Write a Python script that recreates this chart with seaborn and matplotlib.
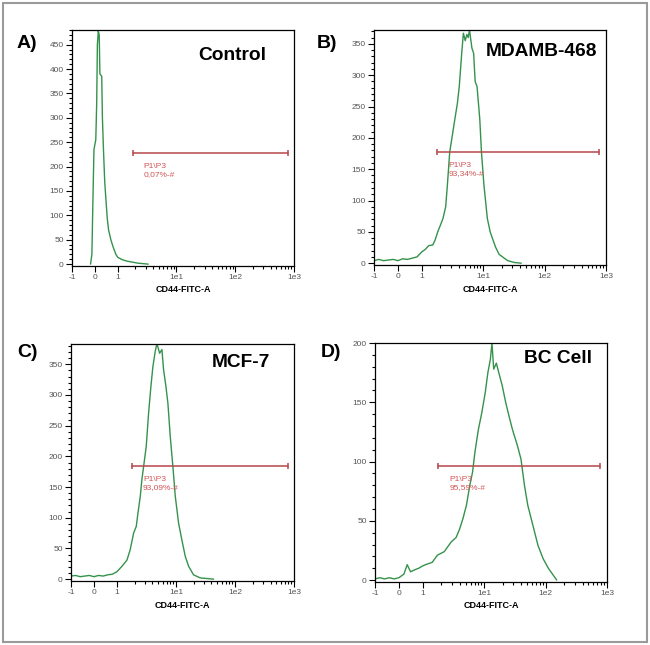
import numpy as np
import pandas as pd
import seaborn as sns
import matplotlib
import matplotlib.pyplot as plt
from matplotlib.ticker import FixedLocator, MultipleLocator
from matplotlib.patches import Rectangle

matplotlib.use('Agg')

# CD44-FITC-A intensity (x) and event counts (y)
control_x = [-0.19, -0.13, -0.09, -0.04, 0.0, 0.04, 0.08, 0.11, 0.15, 0.19, 0.22, 0.3,
             0.33, 0.38, 0.43, 0.48, 0.54, 0.6, 0.7, 0.8, 0.92, 1.0, 1.2, 1.45, 1.8,
             2.2, 2.7, 3.3]
control_y = [0, 20, 120, 235, 245, 255, 330, 450, 478, 470, 390, 385,
             300, 230, 170, 135, 95, 70, 50, 35, 20, 14, 9, 6, 4,
             2, 1, 0]

mdamb_x = [-1.0, -0.8, -0.6, -0.4, -0.2, 0.0, 0.2, 0.4, 0.6, 0.8, 1.0, 1.14, 1.3, 1.51,
           1.65, 1.82, 2.0, 2.21, 2.45, 2.61, 2.85, 3.1, 3.46, 3.8, 4.08, 4.47, 4.76,
           5.1, 5.41, 5.7, 5.99, 6.56, 6.99, 7.4, 7.94, 8.8, 9.38, 10.3, 11.7, 13.0,
           14.1, 16.0, 18.2, 22.0, 25.1, 32.4, 41.7]
mdamb_y = [4, 6, 4, 5, 6, 4, 7, 6, 8, 10, 18, 22, 28, 29,
           37, 50, 60, 71, 90, 124, 177, 200, 230, 255, 282, 335, 367,
           355, 365, 360, 372, 343, 335, 290, 282, 230, 177, 124, 71, 50,
           40, 25, 14, 8, 4, 1, 0]

mcf7_x = [-1.0, -0.8, -0.6, -0.4, -0.2, 0.0, 0.2, 0.4, 0.6, 0.8, 1.0, 1.22, 1.48, 1.68,
          1.92, 2.13, 2.27, 2.49, 2.65, 2.83, 3.14, 3.44, 3.77, 4.07, 4.46, 4.76, 5.29,
          5.79, 6.18, 6.77, 7.32, 8.02, 8.89, 9.75, 11.1, 12.6, 14.4, 16.4, 19.9, 25.8,
          33.5, 43.6]
mcf7_y = [5, 6, 4, 5, 6, 4, 6, 5, 7, 8, 12, 21, 31, 48,
          75, 86, 107, 135, 162, 183, 216, 270, 314, 346, 371, 384, 368,
          374, 341, 314, 286, 232, 183, 135, 91, 64, 37, 21, 7, 2,
          1, 0]

bc_x = [-1.0, -0.8, -0.6, -0.4, -0.2, 0.0, 0.21, 0.35, 0.49, 0.7, 0.83, 1.0, 1.11, 1.43,
        1.73, 2.24, 2.89, 3.5, 3.98, 4.52, 5.14, 5.84, 6.47, 7.08, 8.05, 9.14, 10.4,
        11.5, 12.6, 13.4, 14.3, 15.8, 17.3, 19.7, 22.4, 25.5, 28.9, 35.0, 39.8, 45.3,
        51.4, 62.3, 75.5, 91.4, 111, 134, 152]
bc_y = [1, 2, 1, 2, 1, 2, 5, 13, 7, 9, 10, 12, 13, 15,
        21, 24, 32, 36, 43, 52, 63, 80, 91, 108, 127, 141, 158,
        175, 186, 200, 178, 183, 175, 164, 150, 138, 127, 113, 102, 80,
        63, 46, 29, 18, 10, 4, 0]

titles = ["Control", "MDAMB-468", "MCF-7", "BC Cell"]
letters = ["A)", "B)", "C)", "D)"]
y_tops = [480, 372, 383, 200]
gate_lo = [1.8, 1.8, 1.8, 1.8]
gate_hi = [800, 780, 800, 780]
gate_y = [228, 177, 184, 96]
gate_pct = ["0,07%-#", "93,34%-#", "93,09%-#", "95,59%-#"]

tick_vals = [-1, 0, 1, 10, 100, 1000]
tick_labels = ["-1", "0", "1", "1e1", "1e2", "1e3"]

series = [(control_x, control_y), (mdamb_x, mdamb_y), (mcf7_x, mcf7_y), (bc_x, bc_y)]

# layout (figure fractions)
axes_pos = [
    [0.1108, 0.5876, 0.3415, 0.3659],
    [0.5754, 0.5891, 0.3569, 0.3643],
    [0.1092, 0.0992, 0.3431, 0.3674],
    [0.5769, 0.0977, 0.3569, 0.3705],
]
title_pos = [(0.72, 0.894), (0.72, 0.91), (0.76, 0.924), (0.79, 0.937)]
letter_pos = [(0.042, 0.933), (0.503, 0.933), (0.042, 0.454), (0.509, 0.454)]

GREEN = "#35924b"
RED = "#b8474a"

sns.set_style("white")
plt.rcParams['font.family'] = ['Liberation Sans', 'DejaVu Sans']
plt.rcParams['text.color'] = 'black'
plt.rcParams['axes.labelcolor'] = 'black'

fig = plt.figure(figsize=(6.5, 6.45), dpi=100)
fig.patches.append(Rectangle((0.004, 0.004), 0.992, 0.992, transform=fig.transFigure,
                             fill=False, edgecolor="#9a9a9a", linewidth=1.5))

minor_ticks = [m * 10 ** k for k in range(0, 3) for m in range(2, 10)]

for i, (xs, ys) in enumerate(series):
    ax = fig.add_axes(axes_pos[i])
    df = pd.DataFrame({"x": xs, "y": ys})
    sns.lineplot(data=df, x="x", y="y", ax=ax, color=GREEN, lw=1.0,
                 estimator=None, sort=False)

    ax.set_xscale("symlog", linthresh=1, linscale=0.35)
    ax.set_xlim(-1, 1000)
    ax.set_ylim(-y_tops[i] * 0.008, y_tops[i])
    ax.xaxis.set_major_locator(FixedLocator(tick_vals))
    ax.set_xticklabels(tick_labels)
    ax.xaxis.set_minor_locator(FixedLocator(minor_ticks))
    ax.yaxis.set_major_locator(MultipleLocator(50))
    ax.yaxis.set_minor_locator(MultipleLocator(10))

    ax.tick_params(which="both", direction="out", left=True, bottom=True,
                   labelsize=6, labelcolor="#555555", color="black", width=0.8)
    ax.tick_params(which="major", length=4, pad=2)
    ax.tick_params(which="minor", length=2.2)
    for sp in ax.spines.values():
        sp.set_color("black")
        sp.set_linewidth(0.9)

    ax.set_xlabel("CD44-FITC-A", fontsize=6.5, fontweight="bold", labelpad=3)
    ax.set_ylabel("")

    # gate marker
    ax.plot([gate_lo[i], gate_hi[i]], [gate_y[i], gate_y[i]], color=RED, lw=1.1,
            marker="|", ms=5, mew=1.1)
    ax.annotate("P1\\P3\n" + gate_pct[i], xy=(gate_lo[i], gate_y[i]),
                xytext=(8, -7), textcoords="offset points", ha="left", va="top",
                fontsize=6, color="#d05555", linespacing=1.3)

    ax.text(*title_pos[i], titles[i], transform=ax.transAxes, ha="center",
            va="center", fontsize=13.8, fontweight="bold")
    fig.text(*letter_pos[i], letters[i], ha="center", va="center",
             fontsize=14, fontweight="bold")

plt.savefig("out.png", dpi=100)
